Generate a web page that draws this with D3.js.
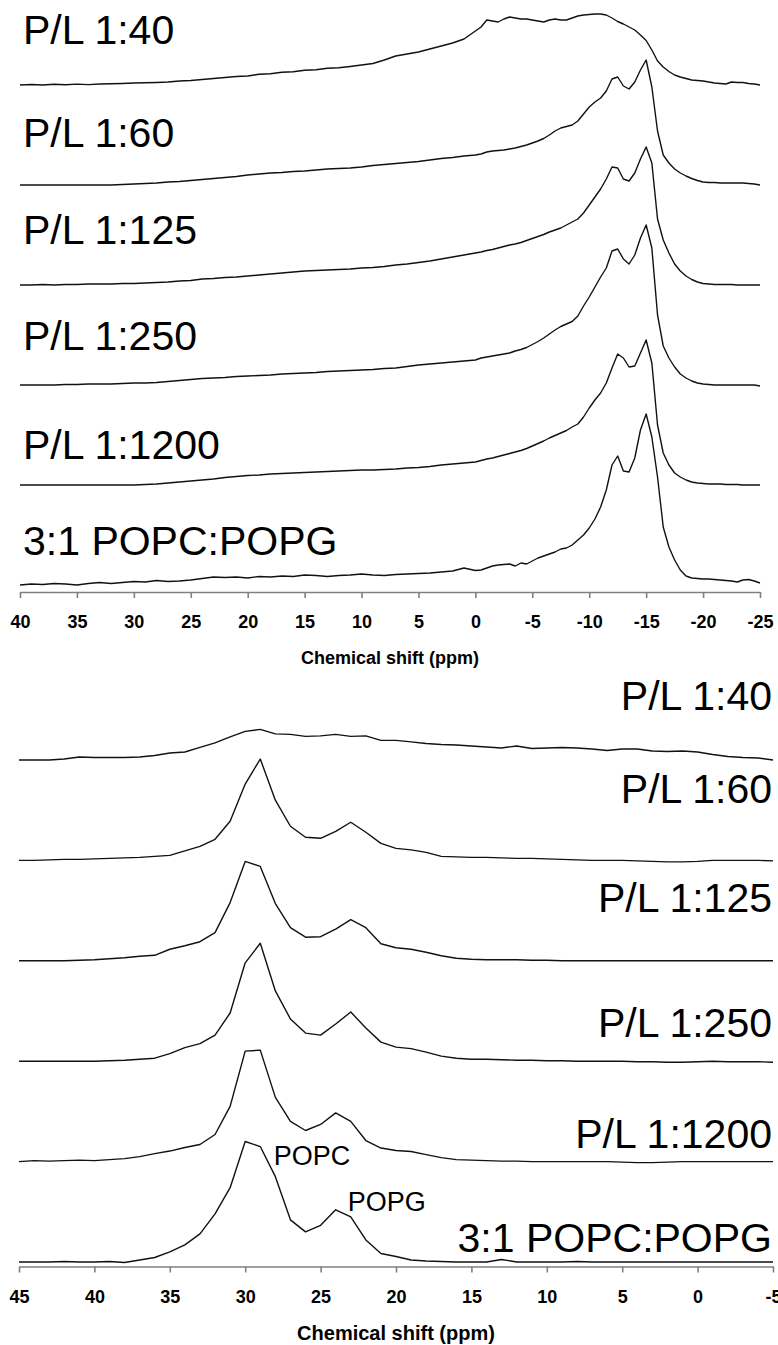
<!DOCTYPE html>
<html>
<head>
<meta charset="utf-8">
<script src="https://cdn.jsdelivr.net/npm/d3@7"></script>
<style>
  html, body { margin: 0; padding: 0; background: #fff; }
  svg { display: block; }
  text { font-family: "Liberation Sans", Arial, sans-serif; }
</style>
</head>
<body>
<svg id="chart" width="778" height="1345"></svg>
<script>
// ---------------- DATA ----------------
// Top panel: 31P chemical shift grid (ppm)
const topPpm = [40,39,38,37,36,35,34,33,32,31,30,29,28,27,26,25,24,23,22,21,20,19,18,17,16,15,14,13,12,11,10,9,8,7,6,5,4,3,2,1,
  0,-0.5,-1,-1.5,-2,-2.5,-3,-3.5,-4,-4.5,-5,-5.5,-6,-6.5,-7,-7.5,-8,-8.5,-9,-9.5,-10,-10.5,-11,-11.5,-12,-12.5,-13,-13.5,-14,-14.5,
  -15,-15.5,-16,-16.5,-17,-17.5,-18,-18.5,-19,-19.5,-20,-20.5,-21,-21.5,-22,-22.5,-23,-23.5,-24,-24.5,-25];
const topLabels = ["P/L 1:40","P/L 1:60","P/L 1:125","P/L 1:250","P/L 1:1200","3:1 POPC:POPG"];
const top_PL40 = [0,0.5,0,0.8,0.3,0.9,0.4,1,1.2,1.5, 2,2.2,2.5,3,4,4.5,5.5,6.5,7.5,8.5, 9,10.8,11.2,12.8,13.2,14.8,15.2,16.8,17.2,18.5, 20,21.5,25,29,31,33,36,39,42,46,
  54,58,65,64,63,66,68,67,66,66, 65,64,63,65,66,65,65,67,69,70, 70.5,71,71,70,67,63.5,61,58,55,50, 44.5,35,24,18,13.5,10,8,6.5,5,4.5, 4,3,2,1.5,1,3,2.5,2.5,1.5,1, 0];
const top_PL60 = [0,0,0,0,0,0,0,0,0,0.5, 1,1.5,2,3,3.5,4.5,5.5,6.5,7.5,8.5, 10,11,12,12.5,13.5,14,15,16,16.5,17, 18,19.5,20.5,21.5,22.5,23.5,25,26.5,27.5,29,
  30,31,33,34,34.5,35,36,37,38.5,40, 42,44,46.5,50,54,57,58.5,60,64,71, 78,83,87,94,106,108,99,96,103,115, 125,98,54,30,22,16,12,9,6.5,4.5, 3,2.5,2.5,2,2,2,2,2,1.5,1, 0];
const top_PL125 = [0,0,0.5,0,0.5,0.5,1,1,1,1.5, 1.5,2,2.5,3,4,4.5,6,6.5,7.5,8, 9,10,11,12,13,14,14.5,15,15.5,16, 17,17.5,18.5,20,21,22.5,24,26,28,30,
  32,33,34.5,35.5,37,38.5,40,41,42.5,44.5, 46.5,48.5,50.5,53,55,57,60,63,66,72, 80,88,96,106,118,117,106,104,112,126, 138,122,66,45,32,21,14,9,5.5,3, 1.5,1,0.5,0.5,0.5,0.5,0,0,0,0, 0];
const top_PL250 = [0,0,0,0,0.5,0.5,1,1,1,1.5, 2,2,2.5,3.5,4.5,5.5,6.5,7,7.5,8.5, 9,9.5,10,11,11.5,12,12.5,13.5,14,14.5, 15,15.5,16.5,17,18.5,20,21,22,23,24,
  25,27,28,29,30,31,32,34,35.5,37.5, 40.5,43.5,47,51,55,58.5,61,63.5,69,79, 88,98,108,117,134,136,126,121,130,147, 160,137,70,39,27,18,11,7,4,2, 1,0.5,0,0,0,0,0,0,0,0, -1];
const top_PL1200 = [0,0,0,0,0,0,0,0,0,0, 0,0.5,1,2,3,4,5,6,7.5,8.5, 9.5,10,11,11.5,12,12.5,13,13.5,14,14.5, 15,15,15.5,16,17,17.5,18.5,20,21,22,
  23,24.5,26,27,28.5,30,31.5,33,34.5,36.5, 39,41.5,44,47,49.5,52,54.5,58,61,68, 77,85,92,102,117,131,127,118,119,132, 145,122,60,32,20,12,8,5,3,2, 1.5,1,1,1,0.5,0.5,0.5,0,0,0, 0];
const top_POPCPOPG = [0,1,0.5,1.5,1,0,1.5,2.5,1.5,2.5, 3.5,3,4.5,3.5,4,5,6.5,8,7.5,8, 7,8.5,8,9,8.5,10,9.5,8.5,9.5,10, 11,10,9.5,10.5,11,11.5,12,13,14,17,
  14.5,15,17,19,20,20.5,21,19,22,21, 24,27,29,31,33,36,37,40,45,50, 57,66,78,95,120,129,114,113,127,155, 171,148,108,58,38,25,15,9,7,6.5, 6,6,5.5,5,4.5,4,3,5,5.5,4, 2];
const topTicks = [40,35,30,25,20,15,10,5,0,-5,-10,-15,-20,-25];

// Bottom panel: grid (ppm)
const botPpm = [45,44,43,42,41,40,39,38,37,36,35,34,33,32,31,30,29,28,27,26,25,24,23,22,21,20,19,18,17,16,15,14,13,12,11,10,9,8,7,6,5,4,3,2,1,0,-1,-2,-3,-4,-5];
const botLabels = ["P/L 1:40","P/L 1:60","P/L 1:125","P/L 1:250","P/L 1:1200","3:1 POPC:POPG"];
const bot_PL40 = [0,0,0,1,3,2.5,2.5,2.5,3,4.5, 7,8,12.5,17,23,28.5,30.5,26,25.5,23.5, 24,25.5,23.5,24,19.5,19.5,18,16.5,15.5,15, 14,13,12,14,11.5,12,12.5,12,11,9.5, 11,11,9,8.5,9,8,5.5,3.5,2.5,2, 0];
const bot_PL60 = [0,0,0.5,1,1,1.5,2,2.5,3,4, 5,9.5,14,21,39,76,101,60,34,23, 22,29,38,28,17,12,10.5,8,4,3.5, 3,3,2.5,2,2,1.5,1,0.5,0,0, 0,-0.5,-1,-1.5,-1.5,-1,0,0,0,0, -0.5];
const bot_PL125 = [0,0,0,0,0.5,1,2,3,4.5,5.5, 11.5,15,19,28,58,99,94,57,33,23.5, 24,31.5,41,33,17,13,11.5,8.5,5,2.5, 1.5,1,1,1,0.5,0.5,0,0,0,0, 0,0,0,0,0,0,0,0,0,0, 0];
const bot_PL250 = [0,0,0,0,0,0,0.5,1,2,3, 7.5,13.5,17.5,26,48,98,117.5,70,42,28, 26,37,49,33,19,14,12.5,9,5,3, 2,2,1.5,1,1,0.5,0.5,0,0,0, 0,-0.5,-0.5,-1,-1,-0.5,0,-0.5,-0.5,-0.5, -1];
const bot_PL1200 = [0,1,0.5,1,1.5,1,2,3,5,8, 10.5,14,17,27,55,110,111,64,40,31, 37,48.5,40,21,13.5,11,10,7,4,2, 1.5,1,0.5,0.5,0,0,0,0,0,0, -0.5,-1,-1,-0.5,0,0,0,0,0,0, 0];
const bot_POPCPOPG = [0,0,0,0.5,0,0,0.5,-0.5,2,4.5, 10,17,28,48,74,120,115,85,42,30, 36.5,52,45,22,8.5,5.5,2,1,0.5,0, 0,0,2.5,0,0,0,0,0.5,0,0, 0,0,0,0,0,0,0,0,0,0, 0];
const botTicks = [45,40,35,30,25,20,15,10,5,0,-5];
const peakLabels = ["POPC","POPG"];
const peakPpm = [28.1, 23.2];

const topSeries = [top_PL40, top_PL60, top_PL125, top_PL250, top_PL1200, top_POPCPOPG];
const botSeries = [bot_PL40, bot_PL60, bot_PL125, bot_PL250, bot_PL1200, bot_POPCPOPG];

// ---------------- DRAW ----------------
const svg = d3.select("#chart");
const FONT = '"Liberation Sans", Arial, sans-serif';

function panel(cfg) {
  const x = d3.scaleLinear().domain(cfg.xDomain).range(cfg.xRange);
  const y = d3.scaleLinear().domain([0, 500]).range(cfg.yRange);
  const n = cfg.series.length;
  const g = svg.append("g");
  cfg.series.forEach((vals, i) => {
    if (vals.length !== cfg.ppm.length) console.error("length mismatch", cfg.labels[i], vals.length, cfg.ppm.length);
    const off = (n - 1 - i) * 100;
    const line = d3.line().x((d, k) => x(cfg.ppm[k])).y(d => y(off + d));
    g.append("path").datum(vals)
      .attr("d", line)
      .attr("fill", "none")
      .attr("stroke", "#111")
      .attr("stroke-width", 1.4)
      .attr("stroke-linejoin", "round");
  });
  cfg.labels.forEach((t, i) => {
    g.append("text")
      .attr("x", cfg.labelX)
      .attr("y", cfg.labelY[i])
      .attr("text-anchor", cfg.labelAnchor)
      .attr("font-size", 41)
      .attr("fill", "#000")
      .text(t);
  });
  const axis = d3.axisBottom(x).tickValues(cfg.ticks).tickSize(6).tickSizeOuter(0)
    .tickPadding(17.5).tickFormat(d => String(d));
  const ag = svg.append("g").attr("transform", `translate(0,${cfg.axisY})`).call(axis);
  ag.select(".domain").attr("stroke", "#808080").attr("stroke-width", 1.6);
  ag.selectAll(".tick line").attr("stroke", "#808080").attr("stroke-width", 1.6);
  ag.selectAll(".tick text").attr("font-family", FONT).attr("font-size", 18)
    .attr("font-weight", "bold").attr("fill", "#000");
  svg.append("text")
    .attr("x", (cfg.xRange[0] + cfg.xRange[1]) / 2)
    .attr("y", cfg.titleY)
    .attr("text-anchor", "middle")
    .attr("font-size", cfg.titleSize)
    .attr("font-weight", "bold")
    .text("Chemical shift (ppm)");
  return { x, y };
}

panel({
  ppm: topPpm, series: topSeries, labels: topLabels,
  xDomain: [40, -25], xRange: [20, 760], yRange: [585, 85],
  labelX: 23, labelAnchor: "start", labelY: [44, 147, 244, 350, 459, 555],
  ticks: topTicks, axisY: 592, titleY: 664, titleSize: 18
});

const bot = panel({
  ppm: botPpm, series: botSeries, labels: botLabels,
  xDomain: [45, -5], xRange: [19, 773], yRange: [1262, 760],
  labelX: 772, labelAnchor: "end", labelY: [710, 803, 912, 1037, 1148, 1252],
  ticks: botTicks, axisY: 1266.5, titleY: 1340, titleSize: 20
});

// peak annotations in the bottom panel
const peakY = [1165, 1210.5];
peakLabels.forEach((t, i) => {
  svg.append("text")
    .attr("x", bot.x(peakPpm[i]))
    .attr("y", peakY[i])
    .attr("font-size", 27)
    .attr("fill", "#000")
    .text(t);
});
</script>
</body>
</html>
